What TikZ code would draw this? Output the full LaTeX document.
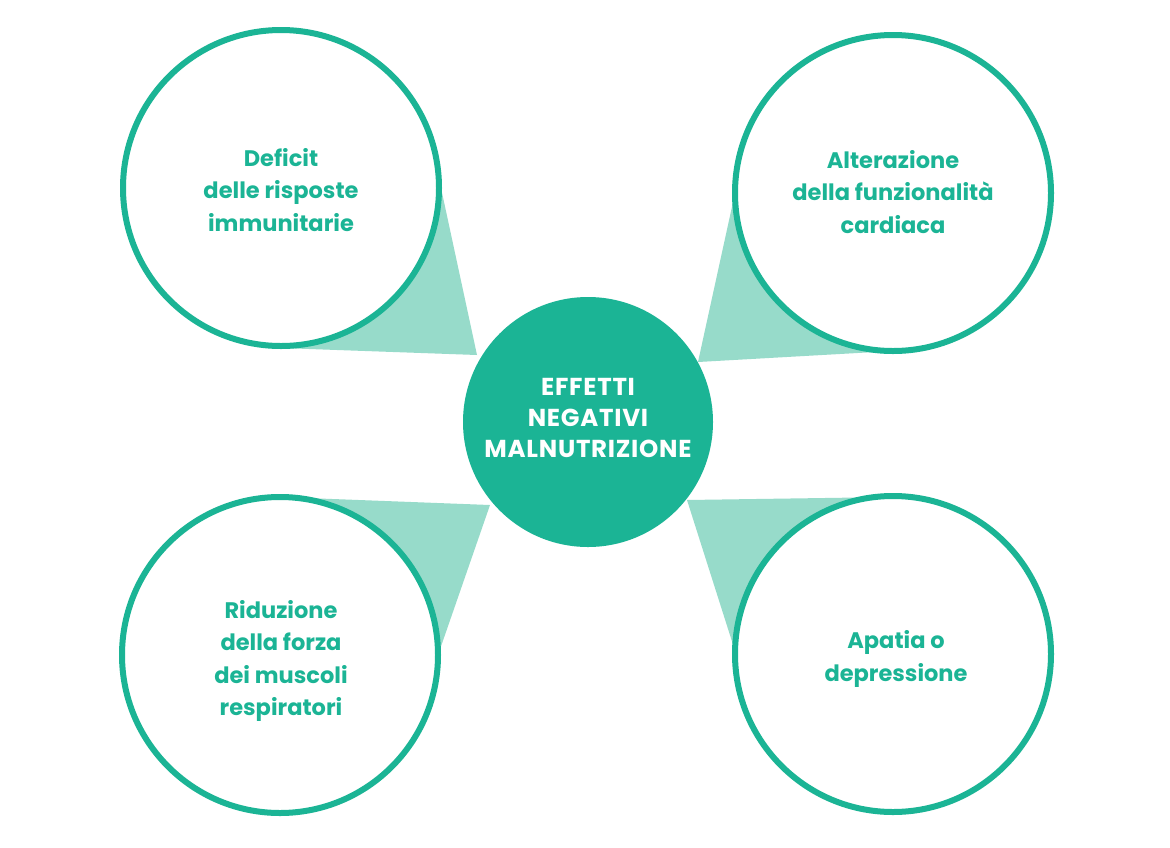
\documentclass[tikz,border=0pt]{standalone}
\usepackage{fontspec}
\usetikzlibrary{calc}
\setmainfont{Poppins}
\newfontfamily\popwide{Poppins}[LetterSpace=3]
\definecolor{dgreen}{HTML}{1BB495}
\definecolor{lgreen}{HTML}{97DBCA}
\begin{document}
\begin{tikzpicture}[x=1pt,y=-1pt,
  outer/.style={circle,draw=dgreen,line width=6pt,fill=white,minimum size=316pt,inner sep=0pt},
  core/.style={circle,fill=dgreen,minimum size=250pt,inner sep=0pt},
  otext/.style={align=center,text=dgreen,font=\fontsize{22.5}{32.5}\selectfont\bfseries},
  ctext/.style={align=center,text=white,font=\popwide\fontsize{24.5}{31}\selectfont\bfseries},
  wedge/.style={fill=lgreen}]
\useasboundingbox (0,0) rectangle (1170,847);
\fill[white] (0,0) rectangle (1170,847);
% named anchors
\coordinate (C) at (588,422);
\coordinate (TL) at (281,188);
\coordinate (TR) at (893,193);
\coordinate (BL) at (280,655);
\coordinate (BR) at (893,654);
\coordinate (aTL) at (477,355);
\coordinate (aTR) at (698,362);
\coordinate (aBL) at (490,505);
\coordinate (aBR) at (687,500);
% wedges
\fill[wedge] (aTL) -- ($(TL)+(160,0)$) -- ($(TL)+(0,160)$) -- cycle;
\fill[wedge] (aTR) -- ($(TR)+(-158,0)$) -- ($(TR)+(0,158)$) -- cycle;
\fill[wedge] (aBL) -- ($(BL)+(0,-158)$) -- ($(BL)+(158,0)$) -- cycle;
\fill[wedge] (aBR) -- ($(BR)+(0,-157)$) -- ($(BR)+(-157,0)$) -- cycle;
% circles
\node[outer] (ntl) at (TL) {};
\node[outer] (ntr) at (TR) {};
\node[outer] (nbl) at (BL) {};
\node[outer] (nbr) at (BR) {};
\node[core] (nc) at (C) {};
% texts
\node[otext] (ttl) at (281,190) {Deficit\\delle risposte\\immunitarie};
\node[otext] (ttr) at (893,192) {Alterazione\\della funzionalità\\cardiaca};
\node[otext] (tbl) at (281,661) {Riduzione\\della forza\\dei muscoli\\respiratori};
\node[otext] (tbr) at (896,659) {Apatia o\\depressione};
\node[ctext] (tc) at (588,418) {EFFETTI\\NEGATIVI\\MALNUTRIZIONE};
\end{tikzpicture}
\end{document}
